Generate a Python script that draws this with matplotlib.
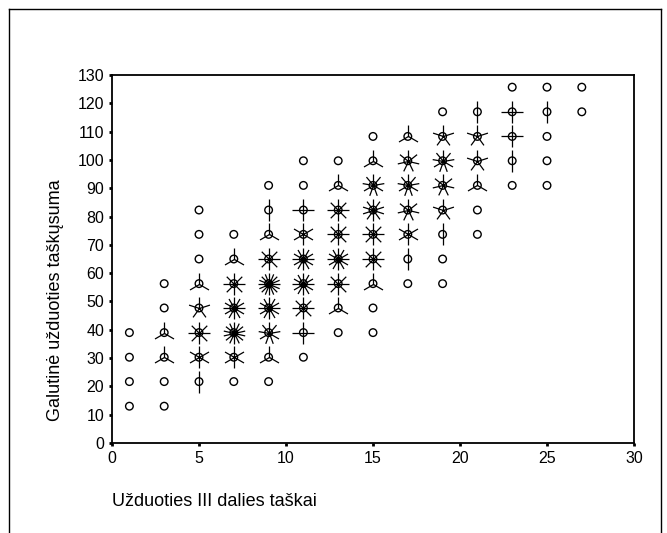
import numpy as np
import matplotlib.pyplot as plt
from matplotlib.path import Path
from matplotlib.lines import Line2D

plt.rcParams['font.family'] = ['Liberation Sans', 'DejaVu Sans']

# bin centres of the sunflower grid (15 x 15 cells over 0..30 and 0..130)
y_rows = [13.0, 21.7, 30.3, 39.0, 47.7, 56.3, 65.0, 73.7, 82.3, 91.0, 99.7, 108.3, 117.0, 125.7]

# one entry per sunflower: column centre, row index, number of cases (petals)
sf_x = [1, 1, 1, 1,
        3, 3, 3, 3, 3, 3,
        5, 5, 5, 5, 5, 5, 5, 5,
        7, 7, 7, 7, 7, 7, 7,
        9, 9, 9, 9, 9, 9, 9, 9, 9,
        11, 11, 11, 11, 11, 11, 11, 11, 11,
        13, 13, 13, 13, 13, 13, 13, 13,
        15, 15, 15, 15, 15, 15, 15, 15, 15,
        17, 17, 17, 17, 17, 17, 17,
        19, 19, 19, 19, 19, 19, 19, 19,
        21, 21, 21, 21, 21, 21,
        23, 23, 23, 23, 23,
        25, 25, 25, 25, 25,
        27, 27]
sf_row = [0, 1, 2, 3,
          0, 1, 2, 3, 4, 5,
          1, 2, 3, 4, 5, 6, 7, 8,
          1, 2, 3, 4, 5, 6, 7,
          1, 2, 3, 4, 5, 6, 7, 8, 9,
          2, 3, 4, 5, 6, 7, 8, 9, 10,
          3, 4, 5, 6, 7, 8, 9, 10,
          3, 4, 5, 6, 7, 8, 9, 10, 11,
          5, 6, 7, 8, 9, 10, 11,
          5, 6, 7, 8, 9, 10, 11, 12,
          7, 8, 9, 10, 11, 12,
          9, 10, 11, 12, 13,
          9, 10, 11, 12, 13,
          12, 13]
sf_n = [1, 1, 1, 1,
        1, 1, 3, 3, 1, 1,
        2, 6, 8, 5, 3, 1, 1, 1,
        1, 6, 14, 12, 8, 3, 1,
        1, 3, 9, 12, 16, 8, 3, 2, 1,
        1, 4, 8, 12, 12, 6, 4, 1, 1,
        1, 3, 8, 12, 8, 8, 3, 1,
        1, 1, 3, 8, 8, 10, 9, 3, 1,
        1, 2, 6, 7, 9, 7, 3,
        1, 1, 2, 5, 7, 9, 5, 1,
        1, 1, 3, 5, 5, 2,
        1, 2, 4, 4, 1,
        1, 1, 1, 2, 1,
        1, 1]

sf_y = [y_rows[r] for r in sf_row]


def petal_marker(n):
    # n strokes from the centre, first one pointing straight up
    verts, codes = [], []
    for k in range(n):
        a = np.pi / 2 + 2 * np.pi * k / n
        verts += [(0, 0), (np.cos(a), np.sin(a))]
        codes += [Path.MOVETO, Path.LINETO]
    return Path(verts, codes)


fig = plt.figure(figsize=(6.67, 5.33), dpi=100)
ax = fig.add_axes([112 / 667, 90 / 533, 522 / 667, 368 / 533])

# centres
ax.scatter(sf_x, sf_y, s=30, facecolors='none', edgecolors='black', linewidths=1.0, zorder=3)

# petals, grouped by petal count
for n in sorted(set(sf_n)):
    if n < 2:
        continue
    px = [x for x, m in zip(sf_x, sf_n) if m == n]
    py = [y for y, m in zip(sf_y, sf_n) if m == n]
    ax.scatter(px, py, marker=petal_marker(n), s=250, c='black', linewidths=0.9, zorder=4)

ax.set_xlim(0, 30)
ax.set_ylim(0, 130)
ax.set_xticks(range(0, 31, 5))
ax.set_yticks(range(0, 131, 10))
ax.tick_params(direction='out', length=2.5, width=2, labelsize=11.5, pad=3)
for sp in ax.spines.values():
    sp.set_linewidth(1.3)

fig.text(56 / 667, 1 - 300 / 533, 'Galutinė užduoties taškųsuma', rotation=90,
         ha='center', va='center', fontsize=13)
fig.text(112 / 667, 1 - 501 / 533, 'Užduoties III dalies taškai',
         ha='left', va='center', fontsize=13)

# outer frame
frame = dict(color='black', linewidth=1.0, transform=fig.transFigure)
fig.add_artist(Line2D([9 / 667, 9 / 667], [0, 1 - 9 / 533], **frame))
fig.add_artist(Line2D([9 / 667, 661 / 667], [1 - 9 / 533, 1 - 9 / 533], **frame))
fig.add_artist(Line2D([661 / 667, 661 / 667], [0, 1 - 9 / 533], **frame))

fig.savefig('out.png', dpi=100)
